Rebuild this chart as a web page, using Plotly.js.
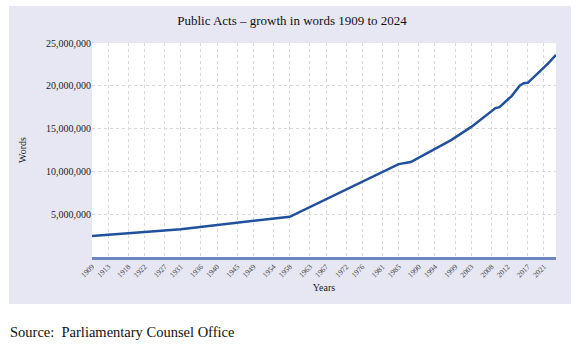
<!DOCTYPE html>
<html>
<head>
<meta charset="utf-8">
<script src="https://cdn.plot.ly/plotly-3.0.1.min.js"></script>
<style>
html,body{margin:0;padding:0;background:#fff;}
#chart{width:581px;height:347px;}
</style>
</head>
<body>
<div id="chart"></div>
<script>
// Data
const years = [1909, 1931, 1958, 1985, 1988, 1998, 2003, 2007, 2009, 2010, 2012, 2013, 2015, 2016, 2017, 2018, 2020, 2022, 2024];
const words = [2450000, 3250000, 4700000, 10850000, 11100000, 13650000, 15200000, 16600000, 17400000, 17500000, 18300000, 18800000, 20000000, 20300000, 20350000, 20800000, 21600000, 22600000, 23600000];
const tickYears = [1909, 1913, 1918, 1922, 1927, 1931, 1936, 1940, 1945, 1949, 1954, 1958, 1963, 1967, 1972, 1976, 1981, 1985, 1990, 1994, 1999, 2003, 2008, 2012, 2017, 2021];
const tickLabels = tickYears.map(String);
const yTicks = [5000000, 10000000, 15000000, 20000000, 25000000];

const serif = '"Liberation Serif", "Times New Roman", serif';

const trace = {
  x: years, y: words, type: 'scatter', mode: 'lines',
  line: {color: '#21509c', width: 2.5},
  hoverinfo: 'skip'
};

const layout = {
  width: 581, height: 347,
  margin: {l: 92, r: 25, t: 43, b: 90},
  paper_bgcolor: '#ffffff',
  plot_bgcolor: '#ffffff',
  showlegend: false,
  font: {family: serif, color: '#222'},
  title: {text: 'Public Acts \u2013 growth in words 1909 to 2024', font: {family: serif, size: 13, color: '#111'}, x: 0.5026, xanchor: 'center', y: 0.94, yanchor: 'middle'},
  xaxis: {
    range: [1909, 2024], tickmode: 'array', tickvals: tickYears, ticktext: tickLabels,
    tickangle: -45, tickfont: {family: serif, size: 7.5, color: '#444'},
    showgrid: true, gridcolor: '#d8d8d8', griddash: 'dot', gridwidth: 1,
    showline: true, linecolor: '#6a86bf', linewidth: 2.5, ticks: '', zeroline: false,
    title: {text: 'Years', font: {family: serif, size: 10, color: '#222'}, standoff: 6}
  },
  yaxis: {
    range: [0, 25000000], tickmode: 'array', tickvals: yTicks, tickformat: ',d',
    tickfont: {family: serif, size: 10, color: '#222'},
    showgrid: true, gridcolor: '#d8d8d8', griddash: 'dot', gridwidth: 1,
    showline: false, ticks: '', zeroline: false,
    title: {text: 'Words', font: {family: serif, size: 10, color: '#222'}, standoff: 17}
  },
  shapes: [{
    type: 'rect', xref: 'paper', yref: 'paper', layer: 'below',
    x0: (9 - 92) / 464, x1: (571 - 92) / 464, y0: (257 - 304) / 214, y1: (257 - 6) / 214,
    fillcolor: '#e7e7f3', line: {width: 0}
  }, {
    type: 'rect', xref: 'paper', yref: 'paper', layer: 'below',
    x0: 0, x1: 1, y0: 0, y1: 1,
    fillcolor: '#ffffff', line: {width: 0}
  }],
  annotations: [{
    text: 'Source:&nbsp;&nbsp;Parliamentary Counsel Office', xref: 'paper', yref: 'paper',
    x: (8 - 92) / 464, xanchor: 'left', y: (257 - 332) / 214, yanchor: 'middle',
    showarrow: false, font: {family: serif, size: 14.5, color: '#111'}
  }]
};

Plotly.newPlot('chart', [trace], layout, {displayModeBar: false, staticPlot: true});
</script>
</body>
</html>
